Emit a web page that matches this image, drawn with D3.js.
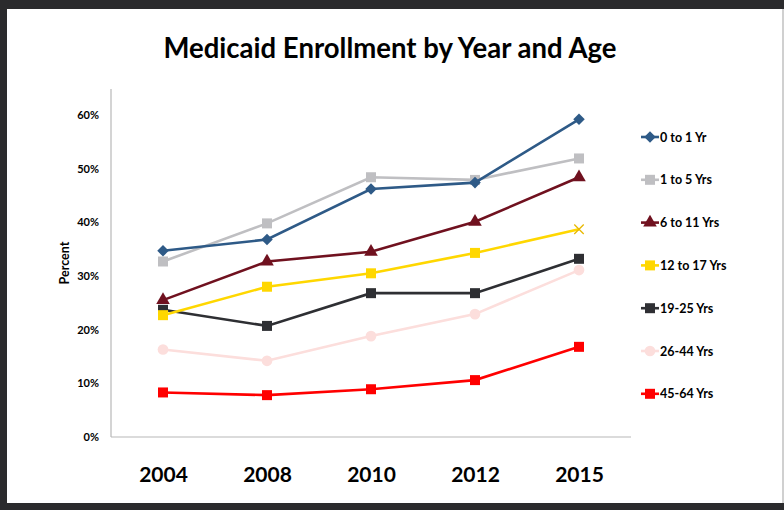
<!DOCTYPE html>
<html>
<head>
<meta charset="utf-8">
<script src="https://cdn.jsdelivr.net/npm/d3@7"></script>
<style>
  body { margin: 0; background: #fff; }
  svg text { font-family: Lato, "Open Sans", sans-serif; font-weight: bold; fill: #000; }
</style>
</head>
<body>
<div id="chart"></div>
<script>
// Years along the bottom
const years = ["2004", "2008", "2010", "2012", "2015"];

// Percent enrolled, one list per age group
const age0to1 = [34.7, 36.8, 46.2, 47.4, 59.2];
const age1to5 = [32.7, 39.8, 48.4, 47.9, 51.9];
const age6to11 = [25.5, 32.7, 34.5, 40.1, 48.4];
const age12to17 = [22.7, 28.0, 30.5, 34.3, 38.7];
const age19to25 = [23.7, 20.7, 26.8, 26.8, 33.2];
const age26to44 = [16.3, 14.2, 18.8, 22.9, 31.1];
const age45to64 = [8.3, 7.8, 8.9, 10.6, 16.8];

const seriesNames = ["0 to 1 Yr", "1 to 5 Yrs", "6 to 11 Yrs", "12 to 17 Yrs", "19-25 Yrs", "26-44 Yrs", "45-64 Yrs"];
const seriesValues = [age0to1, age1to5, age6to11, age12to17, age19to25, age26to44, age45to64];
const seriesColors = ["#2E5A87", "#BFBFC2", "#70111F", "#FFD700", "#2E2F33", "#FCDEDC", "#FF0000"];
// Diamond2 is the squarer diamond (falls back to the tall one on older builds)
const diamond = d3.symbolDiamond2 || d3.symbolDiamond;
const seriesShapes = [diamond, d3.symbolSquare, d3.symbolTriangle, d3.symbolSquare, d3.symbolSquare, d3.symbolCircle, d3.symbolSquare];
const seriesSizes = [85, 100, 80, 100, 100, 90, 100];

const yTicks = [0, 10, 20, 30, 40, 50, 60];

const W = 784, H = 510;
const plot = {left: 111, right: 631, top: 89, bottom: 437};

const svg = d3.select("#chart").append("svg")
    .attr("width", W)
    .attr("height", H);

// Dark frame round the whole picture
svg.append("rect").attr("x", 0).attr("y", 0).attr("width", W).attr("height", H).attr("fill", "#2b2b2d");
svg.append("rect").attr("x", 7).attr("y", 9).attr("width", W - 7).attr("height", 494).attr("fill", "#fff");
svg.append("line").attr("x1", 783).attr("x2", 783).attr("y1", 9).attr("y2", 503)
    .attr("stroke", "#c0c0c0").attr("stroke-width", 1.5);

// Title
svg.append("text")
    .attr("x", 390).attr("y", 58)
    .attr("text-anchor", "middle")
    .attr("textLength", 453).attr("lengthAdjust", "spacingAndGlyphs")
    .style("font-size", "29px")
    .text("Medicaid Enrollment by Year and Age");

// Scales
let x = d3.scalePoint()
    .domain(years)
    .range([plot.left, plot.right])
    .padding(0.5);

let y = d3.scaleLinear()
    .domain([0, 60])
    .range([plot.bottom, plot.bottom - 60 * 5.367]);

// Axes
let xAxis = d3.axisBottom(x).tickSize(0).tickPadding(30);
let yAxis = d3.axisLeft(y).tickValues(yTicks).tickSize(0).tickPadding(12).tickFormat(d => d + "%");

let gx = svg.append("g")
    .attr("transform", "translate(0," + plot.bottom + ")")
    .call(xAxis);
gx.select(".domain").remove();
gx.selectAll("text").style("font-size", "21px");

let gy = svg.append("g")
    .attr("transform", "translate(" + plot.left + ",0)")
    .call(yAxis);
gy.select(".domain").remove();
gy.selectAll("text").style("font-size", "11px");

// Axis lines (light grey, L shape)
svg.append("line")
    .attr("x1", plot.left).attr("x2", plot.left)
    .attr("y1", plot.top).attr("y2", plot.bottom)
    .attr("stroke", "#b8b8b8").attr("stroke-width", 1.2);
svg.append("line")
    .attr("x1", plot.left).attr("x2", plot.right)
    .attr("y1", plot.bottom).attr("y2", plot.bottom)
    .attr("stroke", "#b8b8b8").attr("stroke-width", 1.2);

// Y axis title
svg.append("text")
    .attr("transform", "translate(69,263) rotate(-90)")
    .attr("text-anchor", "middle")
    .style("font-size", "12.5px")
    .text("Percent");

// Lines and markers, drawn bottom group first so the top groups sit over them
let line = d3.line()
    .x((d, i) => x(years[i]))
    .y(d => y(d));

for (let s = seriesNames.length - 1; s >= 0; s--) {
    let values = seriesValues[s];
    let color = seriesColors[s];
    let g = svg.append("g");

    g.append("path")
        .datum(values)
        .attr("fill", "none")
        .attr("stroke", color)
        .attr("stroke-width", 2.6)
        .attr("d", line);

    g.selectAll("path.marker")
        .data(values)
        .enter()
        .append("path")
        .attr("class", "marker")
        .attr("transform", (d, i) => "translate(" + x(years[i]) + "," + y(d) + ")")
        .attr("d", (d, i) => {
            // The 12 to 17 group ends in a little cross in the picture
            if (s === 3 && i === values.length - 1) return d3.symbol(d3.symbolX, 60)();
            return d3.symbol(seriesShapes[s], seriesSizes[s])();
        })
        .attr("fill", (d, i) => (s === 3 && i === values.length - 1) ? "none" : color)
        .attr("stroke", (d, i) => (s === 3 && i === values.length - 1) ? "#E8B800" : "none")
        .attr("stroke-width", 1.3);
}

// Legend
let legend = svg.append("g");
seriesNames.forEach((name, i) => {
    let ly = 137 + i * 42.8;
    legend.append("line")
        .attr("x1", 641).attr("x2", 659)
        .attr("y1", ly).attr("y2", ly)
        .attr("stroke", seriesColors[i]).attr("stroke-width", 2.6);
    legend.append("path")
        .attr("transform", "translate(650," + ly + ")")
        .attr("d", d3.symbol(seriesShapes[i], seriesSizes[i])())
        .attr("fill", seriesColors[i]);
    legend.append("text")
        .attr("x", 660).attr("y", ly)
        .attr("dominant-baseline", "central")
        .style("font-size", "12.5px")
        .text(name);
});
</script>
</body>
</html>
